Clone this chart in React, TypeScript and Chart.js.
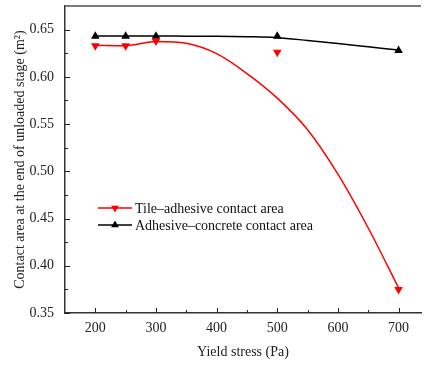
import React, { useEffect, useRef } from "react";
import { Chart, registerables } from "chart.js";

Chart.register(...registerables);

// ---- data ----
const X_TICKS = [200, 300, 400, 500, 600, 700];
const X_MINOR = [250, 350, 450, 550, 650];
const Y_TICKS = [0.35, 0.4, 0.45, 0.5, 0.55, 0.6, 0.65];
const Y_MINOR = [0.375, 0.425, 0.475, 0.525, 0.575, 0.625];

const STRESS = [200, 250, 300, 500, 700];
const TILE_ADHESIVE = [0.633, 0.633, 0.638, 0.626, 0.375];
const ADHESIVE_CONCRETE = [0.643, 0.643, 0.643, 0.643, 0.628];

const FIT_X = [200, 250, 300, 350, 400, 450, 500, 550, 600, 650, 700];
const TILE_FIT = [0.6335, 0.633, 0.6375, 0.6355, 0.6245, 0.6035, 0.5775, 0.544, 0.497, 0.44, 0.3767];
const CONCRETE_FIT = [0.6432, 0.6432, 0.6432, 0.6431, 0.643, 0.6425, 0.6415, 0.6385, 0.6352, 0.6318, 0.6284];

const LABEL_TILE = "Tile\u2013adhesive contact area";
const LABEL_CONCRETE = "Adhesive\u2013concrete contact area";
const X_TITLE = "Yield stress (Pa)";
const Y_TITLE = "Contact area at the end of unloaded stage (m\u00B2)";

const FONT = "'Liberation Serif', 'Times New Roman', serif";

const decor = {
  id: "decor",
  afterDraw(chart: any) {
    const { ctx, chartArea: ca, scales } = chart;
    const x = scales.x;
    const y = scales.y;
    ctx.save();
    // top frame line
    ctx.strokeStyle = "#7a7a7a";
    ctx.lineWidth = 2;
    ctx.beginPath();
    ctx.moveTo(ca.left, ca.top);
    ctx.lineTo(ca.right, ca.top);
    ctx.stroke();
    // inward ticks
    ctx.strokeStyle = "#222";
    ctx.lineWidth = 1;
    const vline = (v: number, len: number) => {
      const px = Math.round(x.getPixelForValue(v)) + 0.5;
      ctx.beginPath();
      ctx.moveTo(px, ca.bottom);
      ctx.lineTo(px, ca.bottom - len);
      ctx.stroke();
    };
    const hline = (v: number, len: number) => {
      const py = Math.round(y.getPixelForValue(v)) + 0.5;
      ctx.beginPath();
      ctx.moveTo(ca.left, py);
      ctx.lineTo(ca.left + len, py);
      ctx.stroke();
    };
    X_TICKS.forEach((v) => vline(v, 5));
    X_MINOR.forEach((v) => vline(v, 3));
    Y_TICKS.forEach((v) => hline(v, 5));
    Y_MINOR.forEach((v) => hline(v, 3));

    // legend
    const items = [0, 1].map((i) => chart.data.datasets[i]);
    const lx = ca.left + 33;
    const ly = ca.top + 202;
    ctx.font = `14px ${FONT}`;
    ctx.textBaseline = "middle";
    items.forEach((ds: any, i: number) => {
      const yy = ly + i * 17;
      ctx.strokeStyle = ds.borderColor;
      ctx.lineWidth = 1.5;
      ctx.beginPath();
      ctx.moveTo(lx, yy);
      ctx.lineTo(lx + 34, yy);
      ctx.stroke();
      // marker
      const cx = lx + 17;
      const r = 4.5;
      const dir = ds.pointRotation === 180 ? -1 : 1;
      ctx.fillStyle = ds.backgroundColor;
      ctx.beginPath();
      ctx.moveTo(cx, yy - dir * r);
      ctx.lineTo(cx + r * 0.866, yy + dir * r * 0.5);
      ctx.lineTo(cx - r * 0.866, yy + dir * r * 0.5);
      ctx.closePath();
      ctx.fill();
      ctx.fillStyle = "#111";
      ctx.textAlign = "left";
      ctx.fillText(ds.label, lx + 37, yy + 1);
    });
    ctx.restore();
  },
};

export default function App() {
  const ref = useRef<HTMLCanvasElement | null>(null);
  useEffect(() => {
    document.body.style.margin = "0";
    if (!ref.current) return;
    const chart = new Chart(ref.current, {
      type: "line",
      data: {
        datasets: [
          {
            label: LABEL_TILE,
            data: STRESS.map((s, i) => ({ x: s, y: TILE_ADHESIVE[i] })),
            showLine: false,
            pointStyle: "triangle",
            pointRotation: 180,
            pointRadius: 5,
            backgroundColor: "#ff0000",
            borderColor: "#ff0000",
            borderWidth: 0,
            order: 0,
          } as any,
          {
            label: LABEL_CONCRETE,
            data: STRESS.map((s, i) => ({ x: s, y: ADHESIVE_CONCRETE[i] })),
            showLine: false,
            pointStyle: "triangle",
            pointRadius: 5,
            backgroundColor: "#000000",
            borderColor: "#000000",
            borderWidth: 0,
            order: 0,
          } as any,
          {
            label: "tile fit",
            data: FIT_X.map((s, i) => ({ x: s, y: TILE_FIT[i] })),
            borderColor: "#ff0000",
            borderWidth: 1.5,
            pointRadius: 0,
            cubicInterpolationMode: "monotone",
            fill: false,
            order: 1,
          } as any,
          {
            label: "concrete fit",
            data: FIT_X.map((s, i) => ({ x: s, y: CONCRETE_FIT[i] })),
            borderColor: "#000000",
            borderWidth: 1.5,
            pointRadius: 0,
            cubicInterpolationMode: "monotone",
            fill: false,
            order: 1,
          } as any,
        ],
      },
      options: {
        responsive: false,
        animation: false,
        layout: { padding: { top: 6, right: 0, left: 0, bottom: 0 } },
        plugins: { legend: { display: false }, tooltip: { enabled: false } },
        scales: {
          x: {
            type: "linear",
            min: 150,
            max: 737,
            afterBuildTicks: (s: any) => {
              s.ticks = X_TICKS.map((v) => ({ value: v }));
            },
            afterFit: (s: any) => {
              s.height = 52;
              s.paddingLeft = 0;
              s.paddingRight = 0;
            },
            grid: { drawOnChartArea: false, drawTicks: false },
            border: { display: true, color: "#333", width: 1.5 },
            ticks: {
              padding: 7,
              maxRotation: 0,
              color: "#222",
              font: { family: FONT, size: 14 },
              callback: (v: any) => String(v),
            },
            title: {
              display: true,
              text: X_TITLE,
              color: "#222",
              font: { family: FONT, size: 14 },
              padding: { top: 0, bottom: 4 },
            },
          },
          y: {
            type: "linear",
            min: 0.35,
            max: 0.675,
            afterBuildTicks: (s: any) => {
              s.ticks = Y_TICKS.map((v) => ({ value: v }));
            },
            afterFit: (s: any) => {
              s.width = 65;
              s.paddingTop = 0;
              s.paddingBottom = 0;
            },
            grid: { drawOnChartArea: false, drawTicks: false },
            border: { display: true, color: "#333", width: 1.5 },
            ticks: {
              padding: 11,
              color: "#222",
              font: { family: FONT, size: 14 },
              callback: (v: any) => Number(v).toFixed(2),
            },
            title: {
              display: true,
              text: Y_TITLE,
              color: "#222",
              font: { family: FONT, size: 14 },
              padding: { top: 12, bottom: 0 },
            },
          },
        },
      },
      plugins: [decor],
    });
    return () => chart.destroy();
  }, []);
  return (
    <div style={{ width: 426, height: 365 }}>
      <canvas ref={ref} width={426} height={365} />
    </div>
  );
}
